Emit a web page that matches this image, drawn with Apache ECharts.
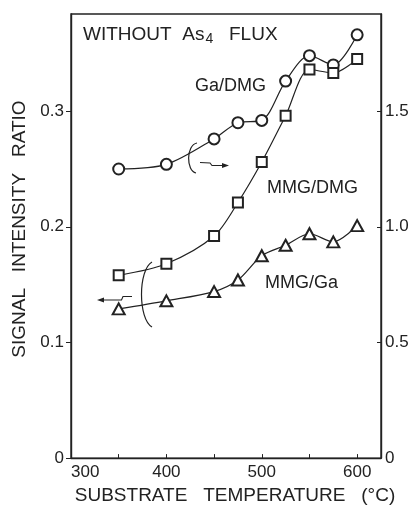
<!DOCTYPE html>
<html>
<head>
<meta charset="utf-8">
<script src="https://cdn.jsdelivr.net/npm/echarts@6/dist/echarts.min.js"></script>
<style>
html,body{margin:0;padding:0;background:#fff;}
#chart{width:416px;height:510px;}
</style>
</head>
<body>
<div id="chart"></div>
<script>
// ---- data ----
var temperatures = [350, 400, 450, 475, 500, 525, 550, 575, 600];
var gaDmg  = [1.25, 1.27, 1.38, 1.45, 1.46, 1.63, 1.74, 1.70, 1.83];          // right axis
var mmgDmg = [0.158, 0.168, 0.192, 0.221, 0.256, 0.296, 0.336, 0.333, 0.345]; // left axis
var mmgGa  = [0.129, 0.136, 0.144, 0.154, 0.175, 0.184, 0.194, 0.187, 0.201]; // left axis
var xTickLabels = ['300', '400', '500', '600'];
var leftTickLabels = ['0', '0.1', '0.2', '0.3'];
var rightTickLabels = ['0', '0.5', '1.0', '1.5'];

function pairs(xs, ys) { return xs.map(function (x, i) { return [x, ys[i]]; }); }

var INK = '#222';
var FONT = '"Liberation Sans", Arial, sans-serif';

var chart = echarts.init(document.getElementById('chart'), null, {renderer: 'canvas'});

function lineSeries(name, data, yIndex, symbol, size) {
  return {
    name: name, type: 'line', yAxisIndex: yIndex, data: data,
    smooth: 0.3, symbol: symbol, symbolSize: size,
    lineStyle: {color: INK, width: 1.2},
    itemStyle: {color: INK, borderColor: INK, borderWidth: 1.3},
    emphasis: {disabled: true}, z: 3
  };
}

var option = {
  backgroundColor: '#fff',
  animation: false,
  grid: {left: 71, right: 35, top: 14, bottom: 45, show: true, borderColor: INK, borderWidth: 1.4, backgroundColor: 'transparent'},
  xAxis: {
    type: 'value', min: 300, max: 625, interval: 50,
    name: 'SUBSTRATE   TEMPERATURE   (°C)', nameLocation: 'middle', nameGap: 27,
    nameTextStyle: {fontFamily: FONT, fontSize: 19, color: INK, padding: [0, 0, 0, 18]},
    axisLine: {show: true, lineStyle: {color: INK, width: 1.4}},
    axisTick: {show: true, inside: true, length: 4, lineStyle: {color: INK}},
    splitLine: {show: false},
    axisLabel: {
      fontFamily: FONT, fontSize: 17, color: INK, margin: 6, alignMinLabel: 'left',
      formatter: function (v) {
        var s = String(Math.round(v));
        return xTickLabels.indexOf(s) >= 0 && Math.abs(v - Math.round(v)) < 1e-9 ? s : '';
      }
    }
  },
  yAxis: [{
    type: 'value', min: 0, max: 0.384, interval: 0.1, position: 'left',
    name: 'SIGNAL   INTENSITY   RATIO', nameLocation: 'middle', nameGap: 38, nameRotate: 90,
    nameTextStyle: {fontFamily: FONT, fontSize: 19, color: INK, padding: [0, 0, 0, 14]},
    axisLine: {show: true, lineStyle: {color: INK, width: 1.4}},
    axisTick: {show: true, inside: false, length: 5, lineStyle: {color: INK}},
    splitLine: {show: false},
    axisLabel: {
      fontFamily: FONT, fontSize: 17, color: INK, margin: 7, showMaxLabel: false,
      formatter: function (v) {
        var i = Math.round(v * 10);
        return Math.abs(v * 10 - i) < 1e-6 && leftTickLabels[i] !== undefined ? leftTickLabels[i] : '';
      }
    }
  }, {
    type: 'value', min: 0, max: 1.92, interval: 0.5, position: 'right',
    axisLine: {show: true, lineStyle: {color: INK, width: 1.4}},
    axisTick: {show: true, inside: true, length: 4, lineStyle: {color: INK}},
    splitLine: {show: false},
    axisLabel: {
      fontFamily: FONT, fontSize: 17, color: INK, margin: 4, showMaxLabel: false,
      formatter: function (v) {
        var i = Math.round(v * 2);
        return Math.abs(v * 2 - i) < 1e-6 && rightTickLabels[i] !== undefined ? rightTickLabels[i] : '';
      }
    }
  }],
  series: [
    lineSeries('Ga/DMG', pairs(temperatures, gaDmg), 1, 'emptyCircle', 11),
    lineSeries('MMG/DMG', pairs(temperatures, mmgDmg), 0, 'emptyRect', 10),
    lineSeries('MMG/Ga', pairs(temperatures, mmgGa), 0, 'emptyTriangle', [12, 11])
  ],
  graphic: [
    {type: 'text', x: 83, y: 34.5, style: {
      text: 'WITHOUT  As{s|4}   FLUX', font: '19px ' + FONT, fill: INK, verticalAlign: 'middle',
      rich: {s: {fontSize: 14, fontFamily: FONT, fill: INK, padding: [9, 0, 0, 1]}}
    }},
    {type: 'text', x: 195, y: 86, style: {text: 'Ga/DMG', font: '18px ' + FONT, fill: INK, verticalAlign: 'middle'}},
    {type: 'text', x: 267, y: 188, style: {text: 'MMG/DMG', font: '18px ' + FONT, fill: INK, verticalAlign: 'middle'}},
    {type: 'text', x: 265, y: 283, style: {text: 'MMG/Ga', font: '18px ' + FONT, fill: INK, verticalAlign: 'middle'}},
    // brace + arrow pointing to the right axis
    {type: 'bezierCurve', shape: {x1: 197, y1: 143, cpx1: 186, cpy1: 145, cpx2: 186, cpy2: 171, x2: 196, y2: 173}, style: {fill: null, stroke: INK, lineWidth: 1.2}},
    {type: 'polyline', shape: {points: [[200, 162.5], [210, 163], [212, 165.5], [226, 165.5]]}, style: {fill: null, stroke: INK, lineWidth: 1.1}},
    {type: 'polygon', shape: {points: [[229, 165.5], [222, 163], [222, 168]]}, style: {fill: INK}},
    // brace + arrow pointing to the left axis
    {type: 'bezierCurve', shape: {x1: 152, y1: 262, cpx1: 138, cpy1: 270, cpx2: 138, cpy2: 319, x2: 152, y2: 327}, style: {fill: null, stroke: INK, lineWidth: 1.2}},
    {type: 'polyline', shape: {points: [[132, 296.5], [123, 296.5], [121.5, 300], [101, 300]]}, style: {fill: null, stroke: INK, lineWidth: 1.1}},
    {type: 'polygon', shape: {points: [[97, 300], [104, 297.5], [104, 302.5]]}, style: {fill: INK}}
  ]
};
chart.setOption(option);
</script>
</body>
</html>
